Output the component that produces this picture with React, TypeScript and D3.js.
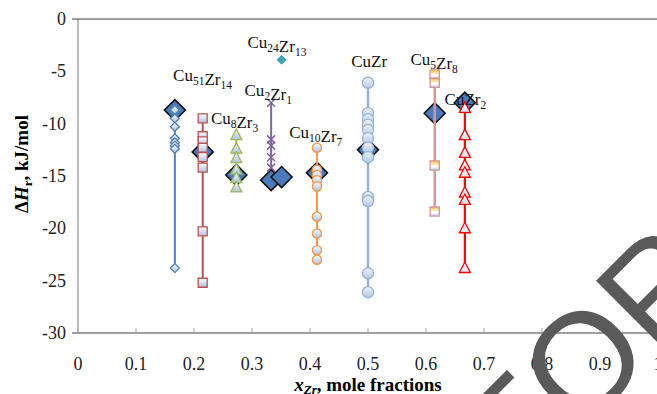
import React, { useEffect, useRef } from 'react';
import * as d3 from 'd3';

const W = 657;
const H = 394;

// axis ticks
const xTicks = [0, 0.1, 0.2, 0.3, 0.4, 0.5, 0.6, 0.7, 0.8, 0.9, 1];
const xTickLabels = ['0', '0.1', '0.2', '0.3', '0.4', '0.5', '0.6', '0.7', '0.8', '0.9', '1'];
const yTicks = [0, -5, -10, -15, -20, -25, -30];
const yTickLabels = ['0', '-5', '-10', '-15', '-20', '-25', '-30'];

// vertical series: one composition each, several enthalpy values
const seriesNames = ['Cu5Zr', 'Cu51Zr14', 'Cu8Zr3', 'Cu2Zr1', 'Cu10Zr7', 'CuZr', 'Cu5Zr8', 'CuZr2'];
const seriesX = [0.167, 0.215, 0.273, 0.333, 0.412, 0.5, 0.615, 0.667];
const cu5zrY = [-8.7, -9.5, -10.3, -11.4, -11.8, -12.1, -12.4, -23.8];
const cu51zr14Y = [-9.5, -11.2, -11.7, -12.3, -13.2, -14.2, -20.3, -25.2];
const cu8zr3Y = [-11.1, -12.4, -13.3, -14.4, -15.2, -16.1];
const cu2zr1Y = [-8.0, -11.5, -12.1, -13.2, -14.2];
const cu10zr7Y = [-12.3, -14.4, -14.9, -15.4, -16.0, -18.9, -20.5, -22.1, -23.0];
const cuzrY = [-6.1, -9.0, -9.6, -10.1, -10.6, -11.4, -12.3, -13.2, -17.0, -17.4, -24.3, -26.1];
const cu5zr8Y = [-5.3, -6.1, -14.0, -18.4];
const cuzr2Y = [-8.5, -11.1, -12.8, -14.0, -14.7, -16.6, -17.3, -20.0, -23.8];
const seriesY = [cu5zrY, cu51zr14Y, cu8zr3Y, cu2zr1Y, cu10zr7Y, cuzrY, cu5zr8Y, cuzr2Y];

// single points
const cu24zr13X = [0.351];
const cu24zr13Y = [-3.9];
const bigX = [0.167, 0.215, 0.273, 0.333, 0.351, 0.412, 0.5, 0.615, 0.667];
const bigY = [-8.7, -12.7, -14.9, -15.4, -15.1, -14.7, -12.5, -9.0, -8.0];

// compound labels [main, sub] pairs, anchored in data units
const labelTexts = [
  [['Cu', '51'], ['Zr', '14']],
  [['Cu', '8'], ['Zr', '3']],
  [['Cu', '2'], ['Zr', '1']],
  [['Cu', '24'], ['Zr', '13']],
  [['Cu', '10'], ['Zr', '7']],
  [['Cu', ''], ['Zr', '']],
  [['Cu', '5'], ['Zr', '8']],
  [['Cu', ''], ['Zr', '2']],
];
const labelX = [0.2147, 0.27, 0.328, 0.343, 0.41, 0.502, 0.614, 0.668];
const labelY = [-5.9, -10.0, -7.35, -2.8, -11.4, -4.55, -4.4, -8.2];

type Style = { color: string; shape: string; r: number; width: number; fill: string };
const styles: Style[] = [
  { color: '#4F81BD', shape: 'diamond', r: 4.5, width: 2, fill: 'url(#mfill)' },
  { color: '#C0504D', shape: 'square', r: 4.5, width: 2, fill: 'url(#mfill)' },
  { color: '#9BBB59', shape: 'triangle', r: 5.5, width: 2, fill: 'url(#mfill)' },
  { color: '#8064A2', shape: 'x', r: 4, width: 2, fill: 'none' },
  { color: '#F79646', shape: 'circle', r: 4.6, width: 2, fill: 'url(#mfill)' },
  { color: '#95B3D7', shape: 'circle', r: 5.6, width: 2.5, fill: 'url(#mfill2)' },
  { color: '#D99694', shape: 'square', r: 4.6, width: 2.5, fill: 'url(#yfill)' },
  { color: '#FF0000', shape: 'triangle', r: 5.5, width: 2.2, fill: 'url(#mfill3)' },
];

function markerPath(shape: string, r: number): string {
  if (shape === 'diamond') return `M0,${-r}L${r},0L0,${r}L${-r},0Z`;
  if (shape === 'square') return `M${-r},${-r}H${r}V${r}H${-r}Z`;
  if (shape === 'triangle') return `M0,${-r * 1.1}L${r},${r * 0.8}L${-r},${r * 0.8}Z`;
  if (shape === 'x') return `M${-r},${-r}L${r},${r}M${r},${-r}L${-r},${r}`;
  return `M${r},0A${r},${r} 0 1,1 ${-r},0A${r},${r} 0 1,1 ${r},0Z`;
}

const App: React.FC = () => {
  const svgRef = useRef<SVGSVGElement>(null);

  useEffect(() => {
    if (!svgRef.current) return;
    const svg = d3.select(svgRef.current);
    svg.selectAll('*').remove();

    const x = d3.scaleLinear().domain([0, 1]).range([78, 658]);
    const y = d3.scaleLinear().domain([-30, 0]).range([333, 19]);
    const serif = '"Liberation Serif", "Times New Roman", serif';

    const defs = svg.append('defs');
    const grad = (id: string, stops: [string, string][]) => {
      const g = defs.append('linearGradient').attr('id', id)
        .attr('x1', 0).attr('y1', 0).attr('x2', 0).attr('y2', 1);
      stops.forEach(([o, c]) => g.append('stop').attr('offset', o).attr('stop-color', c));
    };
    grad('mfill', [['0%', '#ffffff'], ['100%', '#a9c0e2']]);
    grad('mfill2', [['0%', '#eef3fa'], ['100%', '#b3c8e6']]);
    grad('mfill3', [['0%', '#ffffff'], ['100%', '#dbe4f3']]);
    grad('yfill', [['0%', '#f5b93a'], ['35%', '#fbe9b8'], ['60%', '#ffffff'], ['100%', '#b8cbe8']]);

    svg.append('rect').attr('width', W).attr('height', H).attr('fill', '#fff');

    // axis lines
    svg.append('line').attr('x1', x(0)).attr('x2', x(0)).attr('y1', y(0)).attr('y2', y(-30))
      .attr('stroke', '#a6a6a6').attr('stroke-width', 1.5);
    [0, -30].forEach(v => {
      svg.append('line').attr('x1', 72).attr('x2', W).attr('y1', y(v)).attr('y2', y(v))
        .attr('stroke', '#404040').attr('stroke-width', 1.2);
    });
    xTicks.forEach(t => {
      svg.append('line').attr('x1', x(t)).attr('x2', x(t)).attr('y1', y(-30)).attr('y2', y(-30) - 5)
        .attr('stroke', '#a6a6a6').attr('stroke-width', 1);
    });

    // tick labels
    svg.append('g').selectAll('text').data(xTicks).enter().append('text')
      .attr('x', d => x(d)).attr('y', 370).attr('text-anchor', 'middle')
      .attr('font-family', serif).attr('font-size', 18).attr('fill', '#222')
      .text((d, i) => xTickLabels[i]);
    svg.append('g').selectAll('text').data(yTicks).enter().append('text')
      .attr('x', 66).attr('y', d => y(d)).attr('dy', '0.34em').attr('text-anchor', 'end')
      .attr('font-family', serif).attr('font-size', 18).attr('fill', '#222')
      .text((d, i) => yTickLabels[i]);

    // axis titles
    const yt = svg.append('text').attr('transform', 'translate(28,164) rotate(-90)')
      .attr('text-anchor', 'middle').attr('font-family', serif).attr('font-size', 19)
      .attr('font-weight', 'bold');
    yt.append('tspan').text('Δ');
    yt.append('tspan').attr('font-style', 'italic').text('H');
    yt.append('tspan').attr('font-size', 13).attr('dy', 4).text('r');
    yt.append('tspan').attr('dy', -4).text(',  kJ/mol');

    const xt = svg.append('text').attr('x', 368).attr('y', 391)
      .attr('text-anchor', 'middle').attr('font-family', serif).attr('font-size', 19)
      .attr('font-weight', 'bold');
    xt.append('tspan').attr('font-style', 'italic').text('x');
    xt.append('tspan').attr('font-style', 'italic').attr('font-size', 13).attr('dy', 3).text('Zr');
    xt.append('tspan').attr('dy', -3).text(', mole fractions');

    // big diamonds
    svg.append('g').selectAll('path').data(bigX).enter().append('path')
      .attr('d', markerPath('diamond', 10.5))
      .attr('transform', (d, i) => `translate(${x(d)},${y(bigY[i])})`)
      .attr('fill', '#4a7bbd').attr('stroke', '#111').attr('stroke-width', 1.6);

    // vertical series
    seriesNames.forEach((name, k) => {
      const st = styles[k];
      const vals = seriesY[k];
      const g = svg.append('g').attr('class', name);
      g.append('line')
        .attr('x1', x(seriesX[k])).attr('x2', x(seriesX[k]))
        .attr('y1', y(d3.max(vals)!)).attr('y2', y(d3.min(vals)!))
        .attr('stroke', st.color).attr('stroke-width', st.width);
      g.selectAll('path').data(vals).enter().append('path')
        .attr('d', markerPath(st.shape, st.r))
        .attr('transform', d => `translate(${x(seriesX[k])},${y(d)})`)
        .attr('fill', st.fill).attr('stroke', st.color)
        .attr('stroke-width', st.shape === 'x' ? 1.5 : 1.3);
    });

    // Cu24Zr13 single point
    svg.append('g').selectAll('path').data(cu24zr13X).enter().append('path')
      .attr('d', markerPath('diamond', 5))
      .attr('transform', (d, i) => `translate(${x(d)},${y(cu24zr13Y[i])})`)
      .attr('fill', '#3ea2b4');

    // compound labels
    labelTexts.forEach((parts, i) => {
      const t = svg.append('text').attr('x', x(labelX[i])).attr('y', y(labelY[i]))
        .attr('text-anchor', 'middle').attr('font-family', serif).attr('font-size', 17)
        .attr('fill', '#111');
      parts.forEach(([main, sub]) => {
        t.append('tspan').text(main);
        if (sub) {
          t.append('tspan').attr('font-size', 11.5).attr('dy', 4).text(sub);
          t.append('tspan').attr('dy', -4).text('');
        }
      });
    });

    // watermark
    svg.append('text').attr('transform', 'translate(518.5,494.5) rotate(-45)')
      .attr('font-family', '"Liberation Sans", Arial, sans-serif').attr('font-size', 140)
      .attr('fill', '#5a5a5a').text('FOR');
  }, []);

  return (
    <svg ref={svgRef} width={W} height={H}
      style={{ position: 'absolute', left: 0, top: 0, display: 'block' }} />
  );
};

export default App;
